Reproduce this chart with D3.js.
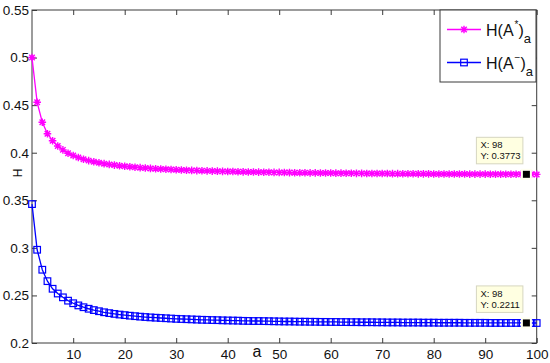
<!DOCTYPE html>
<html>
<head>
<meta charset="utf-8">
<script src="https://cdn.jsdelivr.net/npm/d3@7"></script>
<style>
  body { margin: 0; background: #fff; }
  svg { display: block; font-family: Arial, "Liberation Sans", sans-serif; }
</style>
</head>
<body>
<div id="chart"></div>
<script>
//DATA
var aValues = d3.range(2, 101);

var hStar = [
  0.5000, 0.4530, 0.4320, 0.4200, 0.4125, 0.4070, 0.4030, 0.3995, 0.3970,
  0.3950, 0.3932, 0.3917, 0.3905, 0.3894, 0.3885, 0.3877, 0.3870, 0.3863, 0.3857,
  0.3852, 0.3847, 0.3843, 0.3839, 0.3835, 0.3832, 0.3829, 0.3826, 0.3823, 0.3821,
  0.3818, 0.3816, 0.3814, 0.3812, 0.3810, 0.3809, 0.3807, 0.3806, 0.3804, 0.3803,
  0.3802, 0.3800, 0.3799, 0.3798, 0.3797, 0.3796, 0.3795, 0.3794, 0.3793, 0.3793,
  0.3792, 0.3791, 0.3790, 0.3790, 0.3789, 0.3788, 0.3788, 0.3787, 0.3786, 0.3786,
  0.3785, 0.3785, 0.3784, 0.3784, 0.3783, 0.3783, 0.3782, 0.3782, 0.3781, 0.3781,
  0.3781, 0.3780, 0.3780, 0.3779, 0.3779, 0.3779, 0.3778, 0.3778, 0.3778, 0.3777,
  0.3777, 0.3777, 0.3777, 0.3776, 0.3776, 0.3776, 0.3775, 0.3775, 0.3775, 0.3775,
  0.3774, 0.3774, 0.3774, 0.3774, 0.3774, 0.3773, 0.3773, 0.3773, 0.3773, 0.3772
];

var hMinus = [
  0.3460, 0.2980, 0.2770, 0.2650, 0.2570, 0.2520, 0.2480, 0.2445, 0.2418,
  0.2395, 0.2376, 0.2360, 0.2346, 0.2334, 0.2323, 0.2314, 0.2306, 0.2299, 0.2293,
  0.2287, 0.2282, 0.2277, 0.2273, 0.2269, 0.2266, 0.2263, 0.2260, 0.2257, 0.2254,
  0.2252, 0.2250, 0.2248, 0.2246, 0.2244, 0.2243, 0.2241, 0.2240, 0.2238, 0.2237,
  0.2236, 0.2235, 0.2233, 0.2232, 0.2231, 0.2231, 0.2230, 0.2229, 0.2228, 0.2227,
  0.2226, 0.2226, 0.2225, 0.2224, 0.2224, 0.2223, 0.2223, 0.2222, 0.2222, 0.2221,
  0.2221, 0.2220, 0.2220, 0.2219, 0.2219, 0.2218, 0.2218, 0.2218, 0.2217, 0.2217,
  0.2216, 0.2216, 0.2216, 0.2215, 0.2215, 0.2215, 0.2215, 0.2214, 0.2214, 0.2214,
  0.2213, 0.2213, 0.2213, 0.2213, 0.2213, 0.2212, 0.2212, 0.2212, 0.2212, 0.2212,
  0.2211, 0.2211, 0.2211, 0.2211, 0.2211, 0.2211, 0.2211, 0.2211, 0.2210, 0.2210
];

var xTicks = [10, 20, 30, 40, 50, 60, 70, 80, 90, 100];
var yTicks = [0.2, 0.25, 0.3, 0.35, 0.4, 0.45, 0.5, 0.55];

//data tips shown on the plot
var tips = [
  {x: 98, y: 0.3773, label: 'Y: 0.3773'},
  {x: 98, y: 0.2211, label: 'Y: 0.2211'}
];

//SET UP
var width = 550,
    height = 363;

var plotLeft = 32, plotRight = 536.7, plotTop = 10, plotBottom = 343;

var svg = d3.select('#chart').append('svg')
    .attr('width', width)
    .attr('height', height);

var x = d3.scaleLinear().domain([2, 100]).range([plotLeft, plotRight]);
var y = d3.scaleLinear().domain([0.2, 0.55]).range([plotBottom, plotTop]);

var axisColor = '#3a3a3a';

//plot box
svg.append('rect')
    .attr('x', plotLeft).attr('y', plotTop)
    .attr('width', plotRight - plotLeft).attr('height', plotBottom - plotTop)
    .attr('fill', '#fff')
    .attr('stroke', axisColor)
    .attr('stroke-width', 1);

//AXES (inward ticks, mirrored)
var fmt = d3.format('~g');

var xAxis = svg.append('g')
    .attr('transform', 'translate(0,' + plotBottom + ')')
    .call(d3.axisBottom(x).tickValues(xTicks).tickSizeInner(-5).tickSizeOuter(0).tickPadding(6).tickFormat(fmt));

var xAxisTop = svg.append('g')
    .attr('transform', 'translate(0,' + plotTop + ')')
    .call(d3.axisTop(x).tickValues(xTicks).tickSizeInner(-5).tickSizeOuter(0).tickFormat(''));

var yAxis = svg.append('g')
    .attr('transform', 'translate(' + plotLeft + ',0)')
    .call(d3.axisLeft(y).tickValues(yTicks).tickSizeInner(-5).tickSizeOuter(0).tickPadding(3).tickFormat(fmt));

var yAxisRight = svg.append('g')
    .attr('transform', 'translate(' + plotRight + ',0)')
    .call(d3.axisRight(y).tickValues(yTicks).tickSizeInner(-5).tickSizeOuter(0).tickFormat(''));

[xAxis, xAxisTop, yAxis, yAxisRight].forEach(function(g){
  g.select('.domain').remove();
  g.selectAll('line').attr('stroke', axisColor);
  g.selectAll('text')
      .attr('fill', '#111')
      .style('font-size', '13.5px')
      .style('font-family', 'Arial, "Liberation Sans", sans-serif');
});

//axis labels
svg.append('text')
    .attr('x', 257).attr('y', 357)
    .attr('text-anchor', 'middle')
    .attr('fill', '#111')
    .style('font-size', '16px')
    .text('a');

svg.append('text')
    .attr('transform', 'translate(22,173) rotate(-90)')
    .attr('text-anchor', 'middle')
    .attr('fill', '#111')
    .style('font-size', '12px')
    .text('H');

//LINES
var line = d3.line()
    .x(function(d){ return x(d[0]); })
    .y(function(d){ return y(d[1]); });

var starData = aValues.map(function(a, i){ return [a, hStar[i]]; });
var minusData = aValues.map(function(a, i){ return [a, hMinus[i]]; });

var magenta = '#ff00ff', blue = '#0000ff';

svg.append('path')
    .datum(starData)
    .attr('d', line)
    .attr('fill', 'none')
    .attr('stroke', magenta)
    .attr('stroke-width', 1.3);

svg.append('path')
    .datum(minusData)
    .attr('d', line)
    .attr('fill', 'none')
    .attr('stroke', blue)
    .attr('stroke-width', 1.3);

//asterisk marker path, r = half size
function asterisk(r) {
  var d = r * 0.72;
  return 'M' + (-r) + ',0L' + r + ',0M0,' + (-r) + 'L0,' + r +
    'M' + (-d) + ',' + (-d) + 'L' + d + ',' + d +
    'M' + (-d) + ',' + d + 'L' + d + ',' + (-d);
}

svg.append('g').selectAll('path')
    .data(starData)
  .enter().append('path')
    .attr('transform', function(d){ return 'translate(' + x(d[0]) + ',' + y(d[1]) + ')'; })
    .attr('d', asterisk(3.8))
    .attr('fill', 'none')
    .attr('stroke', magenta)
    .attr('stroke-width', 1.4);

svg.append('g').selectAll('rect')
    .data(minusData)
  .enter().append('rect')
    .attr('x', function(d){ return x(d[0]) - 3.3; })
    .attr('y', function(d){ return y(d[1]) - 3.3; })
    .attr('width', 6.6).attr('height', 6.6)
    .attr('fill', 'none')
    .attr('stroke', blue)
    .attr('stroke-width', 1.2);

//DATA TIPS
tips.forEach(function(t){
  var px = x(t.x), py = y(t.y);
  var g = svg.append('g');

  g.append('rect')
      .attr('x', px - 50).attr('y', py - 37)
      .attr('width', 46.5).attr('height', 26.5)
      .attr('fill', '#ffffe1')
      .attr('stroke', '#d6d6c0')
      .attr('stroke-width', 1);

  g.append('text')
      .attr('x', px - 46).attr('y', py - 26)
      .attr('fill', '#111')
      .style('font-size', '9.5px')
      .text('X: ' + t.x);

  g.append('text')
      .attr('x', px - 46).attr('y', py - 15)
      .attr('fill', '#111')
      .style('font-size', '9.5px')
      .text(t.label);

  g.append('rect')
      .attr('x', px - 4.5).attr('y', py - 4.5)
      .attr('width', 9).attr('height', 9)
      .attr('fill', '#000')
      .attr('stroke', '#fffff0')
      .attr('stroke-width', 2);
});

//LEGEND
var legend = svg.append('g');

legend.append('rect')
    .attr('x', 440).attr('y', 10)
    .attr('width', 96).attr('height', 72)
    .attr('fill', '#fff')
    .attr('stroke', axisColor)
    .attr('stroke-width', 1);

var legendItems = [
  {color: magenta, y: 29.5, sup: '*', kind: 'star'},
  {color: blue, y: 62.5, sup: '\u2212', kind: 'square'}
];

legendItems.forEach(function(item){
  legend.append('line')
      .attr('x1', 447).attr('x2', 481)
      .attr('y1', item.y).attr('y2', item.y)
      .attr('stroke', item.color)
      .attr('stroke-width', 1.3);

  if (item.kind === 'star') {
    legend.append('path')
        .attr('transform', 'translate(464,' + item.y + ')')
        .attr('d', asterisk(3.8))
        .attr('fill', 'none')
        .attr('stroke', item.color)
        .attr('stroke-width', 1.4);
  } else {
    legend.append('rect')
        .attr('x', 464 - 3.3).attr('y', item.y - 3.3)
        .attr('width', 6.6).attr('height', 6.6)
        .attr('fill', 'none')
        .attr('stroke', item.color)
        .attr('stroke-width', 1.2);
  }

  var txt = legend.append('text')
      .attr('x', 486).attr('y', item.y + 6)
      .attr('fill', '#111')
      .style('font-size', '16px');

  txt.append('tspan').text('H(A');
  txt.append('tspan').attr('dy', -8).attr('dx', 1).style('font-size', '10px').text(item.sup);
  txt.append('tspan').attr('dy', 8).attr('dx', 0).text(')');
  txt.append('tspan').attr('dy', 7).style('font-size', '13px').text('a');
});
</script>
</body>
</html>
